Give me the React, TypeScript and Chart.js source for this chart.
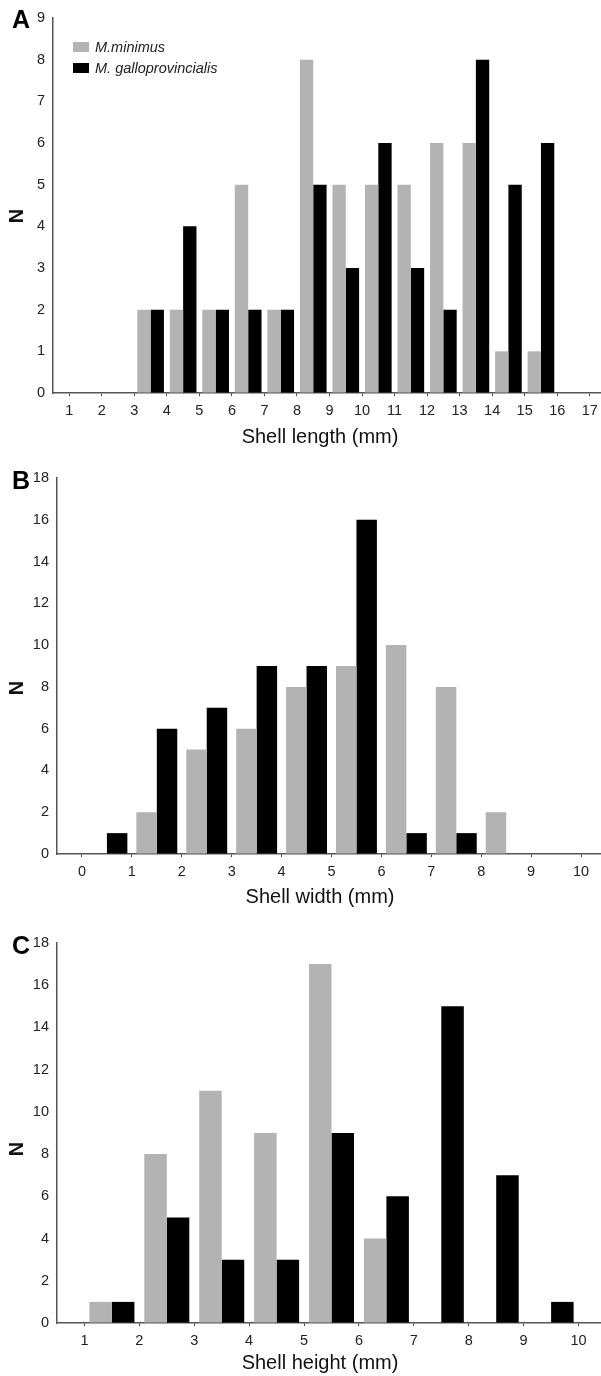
import React, { useEffect, useRef } from 'react';
import { Chart, registerables } from 'chart.js';

Chart.register(...registerables);

// ---------- data ----------
const seriesNames = ['M.minimus', 'M. galloprovincialis'];
const seriesColors = ['#b3b3b3', '#000000'];

// Panel A: shell length
const lengthBinStarts = [3, 4, 5, 6, 7, 8, 9, 10, 11, 12, 13, 14, 15];
const lengthMinimus = [2, 2, 2, 5, 2, 8, 5, 5, 5, 6, 6, 1, 1];
const lengthGallo = [2, 4, 2, 2, 2, 5, 3, 6, 3, 2, 8, 5, 6];
const lengthXTicks = [1, 2, 3, 4, 5, 6, 7, 8, 9, 10, 11, 12, 13, 14, 15, 16, 17];
const lengthYTicks = [0, 1, 2, 3, 4, 5, 6, 7, 8, 9];

// Panel B: shell width
const widthBinStarts = [0, 1, 2, 3, 4, 5, 6, 7, 8];
const widthMinimus = [0, 2, 5, 6, 8, 9, 10, 8, 2];
const widthGallo = [1, 6, 7, 9, 9, 16, 1, 1, 0];
const widthXTicks = [0, 1, 2, 3, 4, 5, 6, 7, 8, 9, 10];
const widthYTicks = [0, 2, 4, 6, 8, 10, 12, 14, 16, 18];

// Panel C: shell height
const heightBinStarts = [1, 2, 3, 4, 5, 6, 7, 8, 9];
const heightMinimus = [1, 8, 11, 9, 17, 4, 0, 0, 0];
const heightGallo = [1, 5, 3, 3, 9, 6, 15, 7, 1];
const heightXTicks = [1, 2, 3, 4, 5, 6, 7, 8, 9, 10];
const heightYTicks = [0, 2, 4, 6, 8, 10, 12, 14, 16, 18];

const yTitle = 'N';

// ---------- layout / styling ----------
const TICK_FONT = "'Liberation Sans Narrow', 'Liberation Sans', Arial, sans-serif";
const MAIN_FONT = "'Liberation Sans', Arial, sans-serif";
const CANVAS_W = 606;

type PanelCfg = {
  letter: string;
  xTitle: string;
  bins: number[];
  minimus: number[];
  gallo: number[];
  xTicks: number[];
  yTicks: number[];
  xMin: number;
  xMax: number;
  yMax: number;
  top: number;
  height: number;
  padTop: number;
  yAxisWidth: number;
  xAxisHeight: number;
  letterPos: [number, number];
  nPos: [number, number];
  xTitlePos: [number, number];
  legend: boolean;
};

const panels: PanelCfg[] = [
  {
    letter: 'A', xTitle: 'Shell length (mm)',
    bins: lengthBinStarts, minimus: lengthMinimus, gallo: lengthGallo,
    xTicks: lengthXTicks, yTicks: lengthYTicks,
    xMin: 0.5, xMax: 17.5, yMax: 9,
    top: 0, height: 460, padTop: 18, yAxisWidth: 53, xAxisHeight: 67,
    letterPos: [21, 21], nPos: [17.5, 216], xTitlePos: [320, 437], legend: true,
  },
  {
    letter: 'B', xTitle: 'Shell width (mm)',
    bins: widthBinStarts, minimus: widthMinimus, gallo: widthGallo,
    xTicks: widthXTicks, yTicks: widthYTicks,
    xMin: -0.5, xMax: 10.5, yMax: 18,
    top: 460, height: 460, padTop: 18, yAxisWidth: 57, xAxisHeight: 66,
    letterPos: [21, 22], nPos: [17.5, 228], xTitlePos: [320, 437], legend: false,
  },
  {
    letter: 'C', xTitle: 'Shell height (mm)',
    bins: heightBinStarts, minimus: heightMinimus, gallo: heightGallo,
    xTicks: heightXTicks, yTicks: heightYTicks,
    xMin: 0.5, xMax: 10.5, yMax: 18,
    top: 920, height: 456, padTop: 23, yAxisWidth: 57, xAxisHeight: 53,
    letterPos: [21, 27], nPos: [17.5, 229], xTitlePos: [320, 443], legend: false,
  },
];

function Panel({ cfg }: { cfg: PanelCfg }) {
  const ref = useRef<HTMLCanvasElement>(null);

  useEffect(() => {
    if (!ref.current) return;
    const toPoints = (vals: number[]) => cfg.bins.map((b, i) => ({ x: b + 0.5, y: vals[i] }));

    const extras = {
      id: 'extras',
      afterDraw(chart: any) {
        const ctx = chart.ctx as CanvasRenderingContext2D;
        ctx.save();
        // panel letter
        ctx.fillStyle = '#000';
        ctx.font = `bold 25px ${MAIN_FONT}`;
        ctx.textAlign = 'center';
        ctx.textBaseline = 'middle';
        ctx.fillText(cfg.letter, cfg.letterPos[0], cfg.letterPos[1]);
        // y title
        ctx.save();
        ctx.translate(cfg.nPos[0], cfg.nPos[1]);
        ctx.rotate(-Math.PI / 2);
        ctx.font = `bold 20px ${MAIN_FONT}`;
        ctx.fillStyle = '#111';
        ctx.fillText(yTitle, 0, 0);
        ctx.restore();
        // x title
        ctx.font = `20px ${MAIN_FONT}`;
        ctx.fillStyle = '#111';
        ctx.fillText(cfg.xTitle, cfg.xTitlePos[0], cfg.xTitlePos[1]);
        // legend
        if (cfg.legend) {
          const ds = chart.data.datasets;
          ds.forEach((d: any, i: number) => {
            const y = 42 + i * 21;
            ctx.fillStyle = d.backgroundColor;
            ctx.fillRect(73, y, 16, 10);
            ctx.fillStyle = '#222';
            ctx.font = `italic 14.5px ${MAIN_FONT}`;
            ctx.textAlign = 'left';
            ctx.textBaseline = 'middle';
            ctx.fillText(d.label, 95, y + 5.5);
          });
        }
        ctx.restore();
      },
    };

    const chart = new Chart(ref.current, {
      type: 'bar',
      data: {
        datasets: [
          {
            label: seriesNames[0],
            data: toPoints(cfg.minimus),
            backgroundColor: seriesColors[0],
            borderWidth: 0,
            categoryPercentage: 0.82,
            barPercentage: 1,
          },
          {
            label: seriesNames[1],
            data: toPoints(cfg.gallo),
            backgroundColor: seriesColors[1],
            borderWidth: 0,
            categoryPercentage: 0.82,
            barPercentage: 1,
          },
        ],
      },
      options: {
        responsive: false,
        animation: false,
        devicePixelRatio: 1,
        layout: { padding: { top: cfg.padTop, left: 0, right: 0, bottom: 0 } },
        plugins: {
          legend: { display: false },
          tooltip: { enabled: false },
          title: { display: false },
        },
        scales: {
          x: {
            type: 'linear',
            min: cfg.xMin,
            max: cfg.xMax,
            offset: false,
            afterBuildTicks: (s: any) => {
              s.ticks = cfg.xTicks.map((v) => ({ value: v }));
            },
            afterFit: (s: any) => {
              s.height = cfg.xAxisHeight;
            },
            grid: { offset: false, drawOnChartArea: false, drawTicks: true, tickLength: 3, color: '#444', lineWidth: 1 },
            border: { display: true, color: '#555', width: 1.5 },
            ticks: {
              font: { family: TICK_FONT, size: 14.5 },
              color: '#222',
              padding: 6,
              maxRotation: 0,
              autoSkip: false,
            },
          },
          y: {
            type: 'linear',
            min: 0,
            max: cfg.yMax,
            afterBuildTicks: (s: any) => {
              s.ticks = cfg.yTicks.map((v) => ({ value: v }));
            },
            afterFit: (s: any) => {
              s.width = cfg.yAxisWidth;
            },
            grid: { drawOnChartArea: false, drawTicks: false },
            border: { display: true, color: '#555', width: 1.5 },
            ticks: {
              font: { family: TICK_FONT, size: 14.5 },
              color: '#222',
              padding: 8,
            },
          },
        },
      },
      plugins: [extras],
    } as any);

    return () => chart.destroy();
  }, [cfg]);

  return (
    <div style={{ position: 'absolute', left: 0, top: cfg.top, width: CANVAS_W, height: cfg.height }}>
      <canvas ref={ref} width={CANVAS_W} height={cfg.height} style={{ width: CANVAS_W, height: cfg.height, display: 'block' }} />
    </div>
  );
}

export default function App() {
  return (
    <div
      style={{
        position: 'absolute',
        left: 0,
        top: 0,
        width: 601,
        height: 1376,
        overflow: 'hidden',
        background: '#fff',
      }}
    >
      {panels.map((p) => (
        <Panel key={p.letter} cfg={p} />
      ))}
    </div>
  );
}
